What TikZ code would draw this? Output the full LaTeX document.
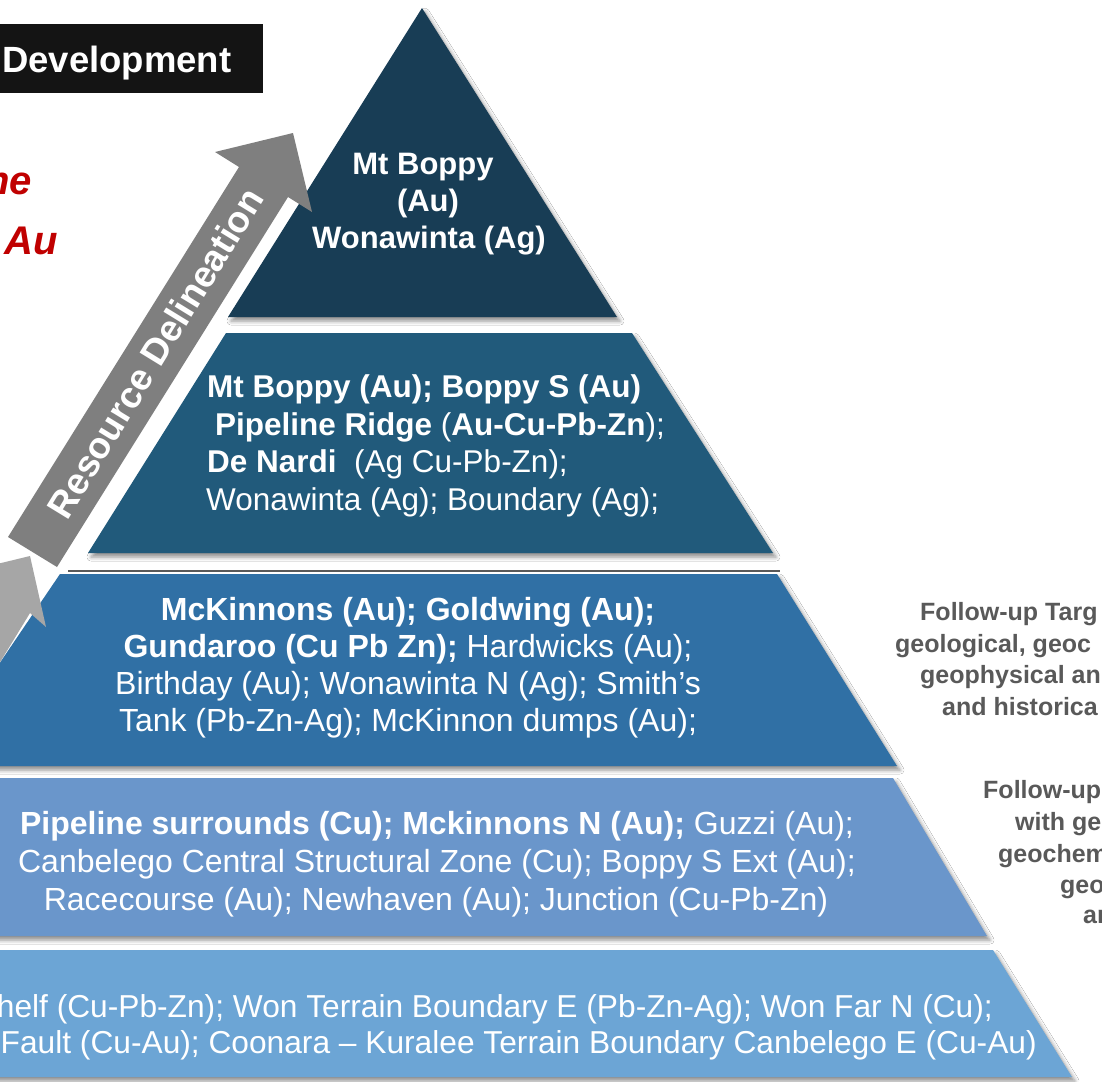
\documentclass[tikz,border=0pt]{standalone}
\usepackage{fontspec}
\setmainfont{Liberation Sans}
\usetikzlibrary{shadows.blur}
\definecolor{navyA}{HTML}{183D55}
\definecolor{navyB}{HTML}{215A7B}
\definecolor{blueC}{HTML}{3070A5}
\definecolor{blueD}{HTML}{6A96CB}
\definecolor{blueE}{HTML}{6CA5D5}
\definecolor{arrowdark}{HTML}{7F7F7F}
\definecolor{arrowlight}{HTML}{A6A6A6}
\definecolor{boxblack}{HTML}{141414}
\definecolor{redtxt}{HTML}{C00000}
\definecolor{graytxt}{HTML}{595959}
\begin{document}
\begin{tikzpicture}[x=1pt,y=-1pt,
  tier/.style={blur shadow={shadow xshift=3pt,shadow yshift=-4pt,shadow blur radius=4pt,shadow opacity=45}},
  toptxt/.style={text=white,inner sep=0pt,anchor=base,font=\bfseries\fontsize{31}{37}\selectfont},
  tiertxt/.style={text=white,inner sep=0pt,anchor=base,font=\fontsize{32}{37}\selectfont},
  lefttxt/.style={text=white,inner sep=0pt,anchor=base west,font=\fontsize{31.5}{37}\selectfont},
  righttxt/.style={tiertxt,font=\fontsize{31.7}{37}\selectfont,anchor=base east},
  sidetxt/.style={text=graytxt,inner sep=0pt,anchor=base west,font=\bfseries\fontsize{25}{30}\selectfont},
  redword/.style={text=redtxt,inner sep=0pt,anchor=base east,font=\bfseries\itshape\fontsize{40}{40}\selectfont},
  arrowtxt/.style={text=white,inner sep=0pt,font=\bfseries\fontsize{37}{37}\selectfont}
]
\useasboundingbox (0,0) rectangle (1102,1081);
\fill[white] (0,0) rectangle (1102,1081);

% pyramid tiers
\fill[tier,navyA] (422,8) -- (617,317) -- (228,317) -- cycle;
\fill[tier,navyB] (226,333) -- (632,333) -- (773,553) -- (88,553) -- cycle;
\fill[tier,blueC] (60,574) -- (777,574) -- (897,766) -- (-70,766) -- cycle;
\fill[tier,blueD] (-20,778) -- (893,778) -- (987,936) -- (-20,936) -- cycle;
\fill[tier,blueE] (-20,950) -- (993,950) -- (1072,1077) -- (-20,1077) -- cycle;
\draw[line width=1.6pt,black!65] (68,571) -- (780,571);

% arrows
\fill[arrowlight] (-140,786) -- (-18,586) -- (-40,573) -- (30,556) -- (46,627) -- (30,613) -- (-90,810) -- cycle;
\fill[arrowdark] (8,537) -- (239,167) -- (215,152) -- (293,133) -- (312,212) -- (288,197) -- (57,567) -- cycle;
\node[arrowtxt,rotate=58.5] (arr) at (155,353) {Resource Delineation};

% development box
\fill[boxblack] (-5,24) rectangle (263,93);
\node[text=white,inner sep=0pt,anchor=base west,font=\bfseries\fontsize{36.5}{36.5}\selectfont] (dev) at (2,72) {Development};

% red words
\node[redword] (r1) at (32,194) {ne};
\node[redword] (r2) at (58,254) {Au};

% top tier
\node[toptxt] (a1) at (423,174) {Mt Boppy};
\node[toptxt] (a2) at (428,211) {(Au)};
\node[toptxt] (a3) at (429,248) {Wonawinta (Ag)};

% tier 2
\node[lefttxt] (b1) at (207,397) {\bfseries Mt Boppy (Au); Boppy S (Au)};
\node[lefttxt] (b2) at (215,435) {\textbf{Pipeline Ridge} (\textbf{Au-Cu-Pb-Zn});};
\node[lefttxt] (b3) at (207,472) {\textbf{De Nardi}\ \ (Ag Cu-Pb-Zn);};
\node[lefttxt] (b4) at (206,510) {Wonawinta (Ag); Boundary (Ag);};

% tier 3
\node[tiertxt] (c1) at (408,620) {\bfseries McKinnons (Au); Goldwing (Au);};
\node[tiertxt] (c2) at (408,657) {\textbf{Gundaroo (Cu Pb Zn);} Hardwicks (Au);};
\node[tiertxt] (c3) at (408,694) {Birthday (Au); Wonawinta N (Ag); Smith’s};
\node[tiertxt] (c4) at (408,731) {Tank (Pb-Zn-Ag); McKinnon dumps (Au);};

% tier 4
\node[tiertxt] (d1) at (437,834) {\textbf{Pipeline surrounds (Cu); Mckinnons N (Au);} Guzzi (Au);};
\node[tiertxt] (d2) at (437,872) {Canbelego Central Structural Zone (Cu); Boppy S Ext (Au);};
\node[tiertxt] (d3) at (436,910) {Racecourse (Au); Newhaven (Au); Junction (Cu-Pb-Zn)};

% tier 5
\node[righttxt] (e1) at (993,1017) {helf (Cu-Pb-Zn); Won Terrain Boundary E (Pb-Zn-Ag); Won Far N (Cu);};
\node[righttxt] (e2) at (1037,1053) {Fault (Cu-Au); Coonara – Kuralee Terrain Boundary Canbelego E (Cu-Au)};

% side notes
\node[sidetxt] (s1) at (920,620) {Follow-up Targ};
\node[sidetxt] (s2) at (895,652) {geological, geoc};
\node[sidetxt] (s3) at (920,683) {geophysical an};
\node[sidetxt] (s4) at (942,715) {and historica};
\node[sidetxt] (s5) at (983,798) {Follow-up};
\node[sidetxt] (s6) at (1015,830) {with ge};
\node[sidetxt] (s7) at (998,862) {geochem};
\node[sidetxt] (s8) at (1060,893) {geo};
\node[sidetxt] (s9) at (1083,923) {an};
\end{tikzpicture}
\end{document}
